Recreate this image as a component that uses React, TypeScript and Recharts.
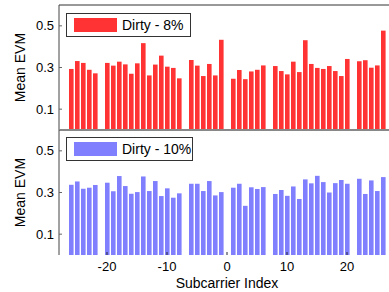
import React from 'react';
import { BarChart, Bar, XAxis, YAxis } from 'recharts';

// subcarrier indices (pilots at ±7, ±21 and DC are left out)
const subcarriers = [
  -26, -25, -24, -23, -22,
  -20, -19, -18, -17, -16, -15, -14, -13, -12, -11, -10, -9, -8,
  -6, -5, -4, -3, -2, -1,
  1, 2, 3, 4, 5, 6,
  8, 9, 10, 11, 12, 13, 14, 15, 16, 17, 18, 19, 20,
  22, 23, 24, 25, 26,
];

const evm8 = [
  0.293, 0.331, 0.322, 0.289, 0.272,
  0.322, 0.309, 0.328, 0.315, 0.27, 0.32, 0.417, 0.262, 0.314, 0.357, 0.304, 0.298, 0.248,
  0.336, 0.309, 0.259, 0.317, 0.262, 0.433,
  0.246, 0.288, 0.244, 0.281, 0.289, 0.31,
  0.307, 0.283, 0.267, 0.328, 0.278, 0.431, 0.317, 0.298, 0.293, 0.307, 0.283, 0.259, 0.341,
  0.33, 0.335, 0.299, 0.31, 0.477,
];

const evm10 = [
  0.337, 0.353, 0.318, 0.323, 0.336,
  0.347, 0.306, 0.379, 0.331, 0.294, 0.302, 0.377, 0.307, 0.355, 0.283, 0.32, 0.275, 0.296,
  0.342, 0.342, 0.307, 0.355, 0.286, 0.302,
  0.323, 0.342, 0.236, 0.325, 0.317, 0.326,
  0.293, 0.312, 0.284, 0.329, 0.269, 0.363, 0.344, 0.38, 0.35, 0.3, 0.345, 0.36, 0.342,
  0.366, 0.293, 0.358, 0.307, 0.374,
];

const xTicks = [-20, -10, 0, 10, 20];
const yTicks = [0.1, 0.3, 0.5];

const RED = '#ff3333';
const BLUE = '#8080ff';
const FONT = '"Liberation Sans", Arial, sans-serif';

const topData = subcarriers.map((k, i) => ({ k, v: evm8[i] }));
const bottomData = subcarriers.map((k, i) => ({ k, v: evm10[i] }));

const tickFont = { fill: '#000', fontSize: 13, fontFamily: FONT };

function LegendBox({ top, width, color, text }: { top: number; width: number; color: string; text: string }) {
  return (
    <div
      style={{
        position: 'absolute', left: 66, top, width, height: 24,
        border: '1px solid #333', background: '#fff', boxSizing: 'border-box',
        fontFamily: FONT, fontSize: 14, color: '#000',
      }}
    >
      <div style={{ position: 'absolute', left: 7, top: 4, width: 43, height: 14, background: color }} />
      <span style={{ position: 'absolute', left: 55, top: 3, lineHeight: '16px', whiteSpace: 'nowrap' }}>{text}</span>
    </div>
  );
}

function yAxisProps() {
  return {
    width: 59,
    type: 'number' as const,
    domain: [0, 0.6],
    ticks: yTicks,
    tickSize: -3,
    tickMargin: 8,
    tick: tickFont,
    axisLine: { stroke: '#444' },
    tickLine: { stroke: '#666' },
    label: { value: 'Mean EVM', angle: -90, position: 'center' as const, dx: -9, fontSize: 14, fill: '#000', fontFamily: FONT },
  };
}

export default function App() {
  return (
    <div style={{ position: 'absolute', left: 0, top: 0, width: 389, height: 292, overflow: 'hidden', background: '#fff' }}>
      <div style={{ position: 'absolute', left: 0, top: 0 }}>
        <BarChart width={395} height={131} data={topData} margin={{ top: 4, right: 0, bottom: 0, left: 0 }}>
          <XAxis dataKey="k" type="number" domain={[-28, 28]} ticks={xTicks} height={1}
            tick={false} tickSize={-3} axisLine={{ stroke: '#888', strokeWidth: 2 }} tickLine={{ stroke: '#555' }} />
          <XAxis xAxisId="t" orientation="top" dataKey="k" type="number" domain={[-28, 28]} ticks={xTicks} height={1}
            tick={false} tickSize={-3} axisLine={{ stroke: '#333' }} tickLine={{ stroke: '#777' }} />
          <YAxis {...yAxisProps()} />
          <Bar dataKey="v" fill={RED} barSize={4.6} isAnimationActive={false} />
        </BarChart>
      </div>
      <div style={{ position: 'absolute', left: 0, top: 129 }}>
        <BarChart width={395} height={163} data={bottomData} margin={{ top: 0, right: 0, bottom: 0, left: 0 }}>
          <XAxis dataKey="k" type="number" domain={[-28, 28]} ticks={xTicks} height={37}
            tick={tickFont} tickSize={-3} tickMargin={10} axisLine={false} tickLine={{ stroke: '#223' }}
            label={{ value: 'Subcarrier Index', position: 'insideBottom', offset: 4, fontSize: 14, fill: '#000', fontFamily: FONT }} />
          <XAxis xAxisId="t" orientation="top" dataKey="k" type="number" domain={[-28, 28]} ticks={xTicks} height={1}
            tick={false} tickSize={-3} axisLine={{ stroke: '#888', strokeWidth: 2 }} tickLine={{ stroke: '#555' }} />
          <YAxis {...yAxisProps()} />
          <Bar dataKey="v" fill={BLUE} barSize={4.6} isAnimationActive={false} />
        </BarChart>
      </div>
      <LegendBox top={13} width={125} color={RED} text="Dirty - 8%" />
      <LegendBox top={137} width={127} color={BLUE} text="Dirty - 10%" />
    </div>
  );
}
